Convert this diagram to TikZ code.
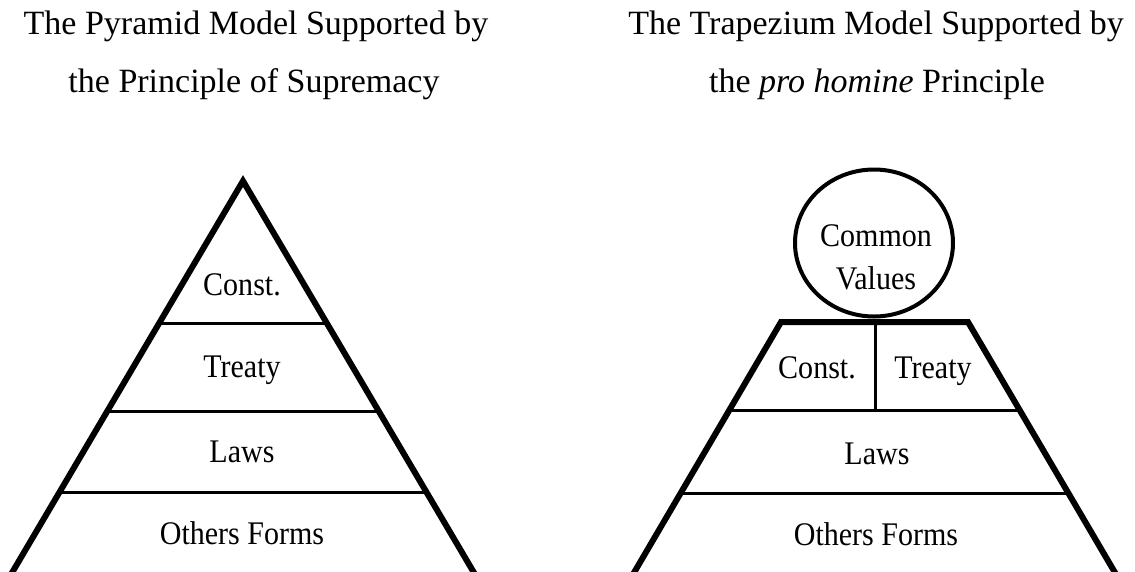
\documentclass[tikz,border=0pt]{standalone}
\usepackage{fontspec}
\setmainfont{Liberation Serif}
\newfontfamily\labelfont[FakeStretch=0.91]{Liberation Serif}
\usetikzlibrary{shapes.geometric}
\begin{document}
\begin{tikzpicture}
  [x=1pt,y=-1pt,
   outer/.style={line width=6pt,line join=miter},
   inner/.style={line width=3pt},
   title/.style={font=\fontsize{34}{40}\selectfont},
   every node/.style={anchor=base,inner sep=0pt,font=\labelfont\fontsize{33}{41}\selectfont}]
  \clip (0,0) rectangle (1135,571);

  % titles
  \node[title] (t1) at (256,34) {The Pyramid Model Supported by};
  \node[title] (t2) at (254,92) {the Principle of Supremacy};
  \node[title] (t3) at (876,34) {The Trapezium Model Supported by};
  \node[title] (t4) at (877,92) {the \textit{pro homine} Principle};

  % pyramid
  \coordinate (top) at (243,181);
  \coordinate (pl) at (3,588);
  \coordinate (pr) at (483,588);
  \coordinate (a1) at (159,323);  \coordinate (b1) at (327,323);
  \coordinate (a2) at (107,411);  \coordinate (b2) at (379,411);
  \coordinate (a3) at (58,492);   \coordinate (b3) at (428,492);
  \draw[inner] (a1) -- (b1) (a2) -- (b2) (a3) -- (b3);
  \draw[outer] (pl) -- (top) -- (pr);
  \node (p1) at (242,295) {Const.};
  \node (p2) at (242,377) {Treaty};
  \node (p3) at (242,462) {Laws};
  \node (p4) at (242,544) {Others Forms};

  % trapezium
  \coordinate (tl) at (781,322);
  \coordinate (tr) at (968,322);
  \coordinate (ql) at (625,588);
  \coordinate (qr) at (1124,588);
  \coordinate (d1) at (875,322);  \coordinate (d2) at (875,410);
  \coordinate (c1) at (730,410);  \coordinate (e1) at (1019,410);
  \coordinate (c2) at (682,493);  \coordinate (e2) at (1067,493);
  \draw[inner] (d1) -- (d2) (c1) -- (e1) (c2) -- (e2);
  \draw[outer] (ql) -- (tl) -- (tr) -- (qr);
  \node[ellipse,draw,line width=4pt,anchor=center,
        minimum width=158pt,minimum height=147pt] (cv) at (874,243) {};
  \node (v1) at (876,246) {Common};
  \node (v2) at (876,289) {Values};
  \node (q1) at (817,378) {Const.};
  \node (q2) at (933,378) {Treaty};
  \node (q3) at (877,464) {Laws};
  \node (q4) at (876,545) {Others Forms};
\end{tikzpicture}
\end{document}
